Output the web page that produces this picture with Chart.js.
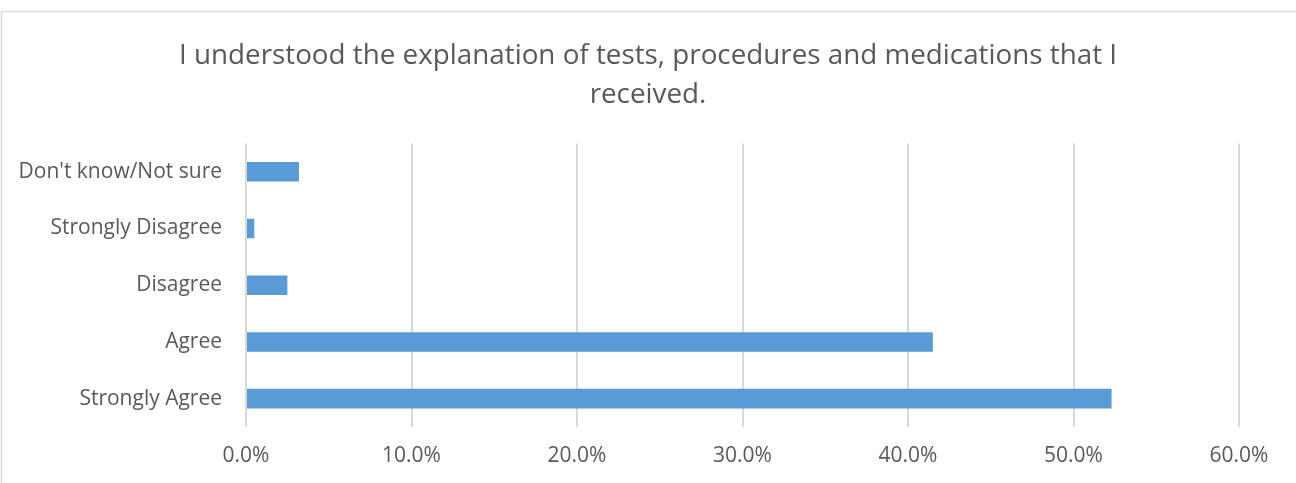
<!DOCTYPE html>
<html>
<head>
<meta charset="utf-8">
<script src="https://cdn.jsdelivr.net/npm/chart.js@4/dist/chart.umd.min.js"></script>
<style>
  html, body { margin: 0; padding: 0; background: #ffffff; }
  #wrap { position: relative; width: 1296px; height: 483px; }
  canvas { display: block; }
</style>
</head>
<body>
<div id="wrap"><canvas id="c" width="1296" height="483"></canvas></div>
<script>
const titleLines = ["I understood the explanation of tests, procedures and medications that I", "received."];
const categories = ["Don't know/Not sure", "Strongly Disagree", "Disagree", "Agree", "Strongly Agree"];
const values = [3.2, 0.5, 2.5, 41.5, 52.3];
const xTicks = [0, 10, 20, 30, 40, 50, 60];

const borderPlugin = {
  id: 'outerBorder',
  beforeDraw(chart) {
    const ctx = chart.ctx;
    ctx.save();
    ctx.strokeStyle = '#d9d9d9';
    ctx.lineWidth = 1.5;
    ctx.beginPath();
    ctx.moveTo(1.5, chart.height);
    ctx.lineTo(1.5, 11.5);
    ctx.lineTo(chart.width, 11.5);
    ctx.stroke();
    ctx.restore();
  }
};

new Chart(document.getElementById('c'), {
  type: 'bar',
  data: {
    labels: categories,
    datasets: [{
      data: values,
      backgroundColor: '#5b9bd5',
      borderWidth: 0,
      barPercentage: 0.69,
      categoryPercentage: 0.5
    }]
  },
  plugins: [borderPlugin],
  options: {
    indexAxis: 'y',
    responsive: false,
    animation: false,
    layout: { padding: { left: 0, right: 0, top: 0, bottom: 0 } },
    plugins: {
      legend: { display: false },
      tooltip: { enabled: false },
      title: {
        display: true,
        text: titleLines,
        color: '#595959',
        font: { family: 'Open Sans', size: 27.8, weight: 'normal', lineHeight: 1.41 },
        padding: { top: 36, bottom: 29 }
      }
    },
    scales: {
      x: {
        type: 'linear',
        min: xTicks[0],
        max: xTicks[xTicks.length - 1],
        afterBuildTicks(scale) { scale.ticks = xTicks.map(v => ({ value: v })); },
        afterFit(scale) { scale.height = 56; },
        border: { display: false },
        grid: { color: '#d9d9d9', lineWidth: 2, drawTicks: false },
        ticks: {
          color: '#595959',
          font: { family: 'Open Sans', size: 21 },
          padding: 16,
          callback: v => Number(v).toFixed(1) + '%'
        }
      },
      y: {
        afterFit(scale) { scale.width = 246; },
        border: { display: false },
        grid: { display: false, drawTicks: false },
        ticks: {
          color: '#595959',
          font: { family: 'Open Sans', size: 21 },
          padding: 24
        }
      },
      yRight: {
        type: 'category',
        position: 'right',
        afterFit(scale) { scale.width = 57; },
        border: { display: false },
        grid: { display: false, drawTicks: false },
        ticks: { display: false }
      }
    }
  }
});
</script>
</body>
</html>
